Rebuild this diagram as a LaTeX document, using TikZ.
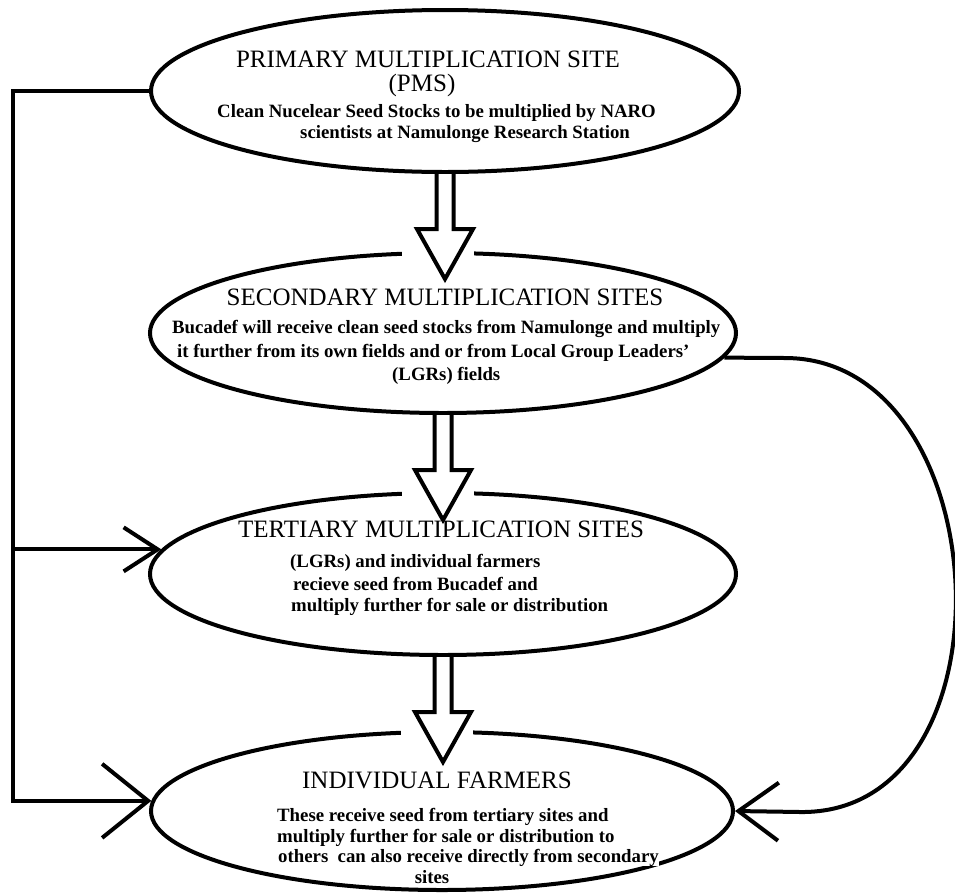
\documentclass[tikz,border=0pt]{standalone}
\usepackage{fontspec}
\setmainfont{Liberation Serif}
\usetikzlibrary{shapes.geometric,arrows.meta,calc}

\tikzset{
  site/.style={ellipse, draw, line width=4pt, inner sep=0pt},
  head/.style={font=\fontsize{25}{28}\selectfont, anchor=base, inner sep=0pt},
  body/.style={font=\bfseries\fontsize{18.8}{21}\selectfont, anchor=base west, inner sep=0pt},
  link/.style={line width=4pt},
  hollow/.style={line width=4pt, fill=white, line join=miter}
}

\begin{document}
\begin{tikzpicture}[x=1pt, y=-1pt]
    \useasboundingbox (0,0) rectangle (955,892);

    % the four sites
    \node[site, minimum width=588, minimum height=162] (pms) at (445,91) {};
    \node[site, minimum width=586, minimum height=160] (sms) at (443,333) {};
    \node[site, minimum width=586, minimum height=162] (tms) at (443,574) {};
    \node[site, minimum width=582, minimum height=158] (ifs) at (442,811) {};

    % hollow arrows down the chain
    \foreach \a/\b in {pms/sms, sms/tms, tms/ifs} {
      \fill[white] ($(\b.north)+(-41,-9)$) rectangle ($(\b.north)+(31,9)$);
      \draw[hollow] (\a.south) ++(-8.5,0) -- ++(0,55) -- ++(-19.5,0)
        -- ++(28,50) -- ++(28,-50) -- ++(-19.5,0) -- ++(0,-55);
    }

    % feed lines on the left
    \coordinate (spine) at (13,91);
    \draw[link, -{Straight Barb[length=46pt, width=74pt]}]
      (pms.west) -- (spine) -- (spine |- ifs.178) -- (ifs.178);
    \draw[link, -{Straight Barb[length=34pt, width=44pt]}]
      (spine |- tms.175) -- (tms.175);

    % secondary sites straight to the farmers
    \draw[link, -{Straight Barb[length=40pt, width=58pt]}]
      (sms.-5) -- (785,358) .. controls (1000,358) and (1020,815) .. (800,812) -- (ifs.0);

    % texts
    \node[head] (pms-t) at (428,67) {PRIMARY MULTIPLICATION SITE};
    \node[head] (pms-s) at (422,91) {(PMS)};
    \node[body] (pms-1) at (217,117) {Clean Nucelear Seed Stocks to be multiplied by NARO};
    \node[body] (pms-2) at (300,138) {scientists at Namulonge Research Station};

    \node[head] (sms-t) at (445,305) {SECONDARY MULTIPLICATION SITES};
    \node[body] (sms-1) at (172,333) {Bucadef will receive clean seed stocks from Namulonge and multiply};
    \node[body] (sms-2) at (177,357) {it further from its own fields and or from Local Group Leaders'};
    \node[body] (sms-3) at (392,380) {(LGRs) fields};

    \node[head] (tms-t) at (441,537) {TERTIARY MULTIPLICATION SITES};
    \node[body] (tms-1) at (290,567) {(LGRs) and individual farmers};
    \node[body] (tms-2) at (293,590) {recieve seed from Bucadef and};
    \node[body] (tms-3) at (291,611) {multiply further for sale or distribution};

    \node[head] (ifs-t) at (437,788) {INDIVIDUAL FARMERS};
    \node[body] (ifs-1) at (277,821) {These receive seed from tertiary sites and};
    \node[body] (ifs-2) at (277,842) {multiply further for sale or distribution to};
    \node[body, fill=white] (ifs-3) at (278,862) {others\ \ can also receive directly from secondary};
    \node[body, anchor=base] (ifs-4) at (432,883) {sites};

\end{tikzpicture}
\end{document}
